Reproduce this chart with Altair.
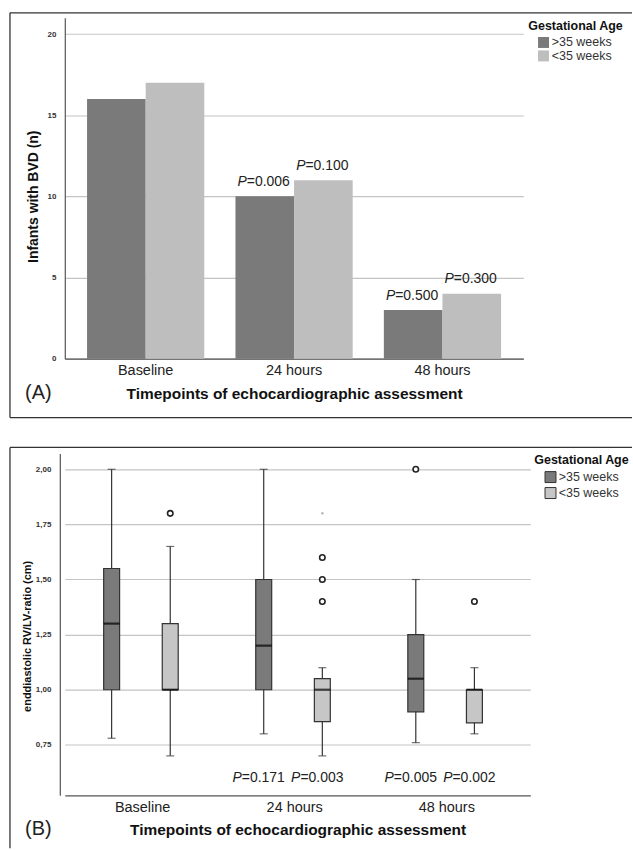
import altair as alt
import pandas as pd

FONT = "Liberation Sans"

timepoints = ["Baseline", "24 hours", "48 hours"]
groups = [">35 weeks", "<35 weeks"]
colors_a = ["#7a7a7a", "#bebebe"]
colors_b = ["#7a7a7a", "#c6c6c6"]

# ---------- Panel A: infants with BVD (n)
infants_gt35 = [16, 10, 3]
infants_lt35 = [17, 11, 4]
pval_a_gt35 = ["", "0.006", "0.500"]
pval_a_lt35 = ["", "0.100", "0.300"]

# ---------- Panel B: enddiastolic RV/LV ratio box plots
lower_gt35 = [0.78, 0.80, 0.76]
q1_gt35 = [1.00, 1.00, 0.90]
median_gt35 = [1.30, 1.20, 1.05]
q3_gt35 = [1.55, 1.50, 1.25]
upper_gt35 = [2.00, 2.00, 1.50]

lower_lt35 = [0.70, 0.70, 0.80]
q1_lt35 = [1.00, 0.855, 0.85]
median_lt35 = [1.00, 1.00, 1.00]
q3_lt35 = [1.30, 1.05, 1.00]
upper_lt35 = [1.65, 1.10, 1.10]

outlier_time = ["Baseline", "24 hours", "24 hours", "24 hours", "48 hours", "48 hours"]
outlier_group = ["<35 weeks", "<35 weeks", "<35 weeks", "<35 weeks", ">35 weeks", "<35 weeks"]
outlier_value = [1.80, 1.40, 1.50, 1.60, 2.00, 1.40]

extreme_time = ["24 hours"]
extreme_group = ["<35 weeks"]
extreme_value = [1.80]

pval_b_gt35 = ["", "0.171", "0.005"]
pval_b_lt35 = ["", "0.003", "0.002"]
pval_b_level = 0.60

# ---------- tables
rows_a = []
for i, t in enumerate(timepoints):
    rows_a.append({"time": t, "group": groups[0], "value": infants_gt35[i], "p": pval_a_gt35[i]})
    rows_a.append({"time": t, "group": groups[1], "value": infants_lt35[i], "p": pval_a_lt35[i]})
df_a = pd.DataFrame(rows_a)
df_a_p = df_a[df_a["p"] != ""].copy()
df_a_p["ptext"] = "=" + df_a_p["p"]
df_a_p["pp"] = "P"

rows_b = []
for i, t in enumerate(timepoints):
    rows_b.append({"time": t, "group": groups[0], "lower": lower_gt35[i], "q1": q1_gt35[i],
                   "median": median_gt35[i], "q3": q3_gt35[i], "upper": upper_gt35[i], "p": pval_b_gt35[i]})
    rows_b.append({"time": t, "group": groups[1], "lower": lower_lt35[i], "q1": q1_lt35[i],
                   "median": median_lt35[i], "q3": q3_lt35[i], "upper": upper_lt35[i], "p": pval_b_lt35[i]})
df_b = pd.DataFrame(rows_b)
df_b_p = df_b[df_b["p"] != ""].copy()
df_b_p["ptext"] = "=" + df_b_p["p"]
df_b_p["pp"] = "P"
df_b_p["plevel"] = pval_b_level

df_out = pd.DataFrame({"time": outlier_time, "group": outlier_group, "value": outlier_value})
df_ext = pd.DataFrame({"time": extreme_time, "group": extreme_group, "value": extreme_value})

one = pd.DataFrame({"k": [0]})

# ---------- shared pieces
xo_scale = alt.Scale(domain=groups, paddingInner=0, paddingOuter=0)


def x_axis():
    return alt.Axis(title="Timepoints of echocardiographic assessment", labelAngle=0,
                    ticks=False, grid=False, domainColor="#555", domainWidth=1.2,
                    labelFontSize=14.5, labelColor="#222", labelPadding=5,
                    titleFontSize=15.5, titleFontWeight="bold", titleColor="#111",
                    titlePadding=9)


def xo():
    return alt.XOffset("group:N", scale=xo_scale, sort=groups)


def legend(lx, ly, symoff, size, stroke, strokew, rowpad):
    return alt.Legend(title="Gestational Age", orient="none", legendX=lx, legendY=ly,
                      symbolType="square", symbolSize=size, symbolOffset=symoff,
                      symbolStrokeColor=stroke, symbolStrokeWidth=strokew,
                      labelFontSize=12.5, labelColor="#333", labelOffset=2,
                      titleFontSize=12.5, titleFontWeight="bold", titleColor="#111",
                      titlePadding=4, rowPadding=rowpad, padding=0)


# ---------- Panel A
xa_scale = alt.Scale(domain=timepoints, paddingInner=0.21, paddingOuter=0.15)


def xa():
    return alt.X("time:N", scale=xa_scale, sort=timepoints, axis=x_axis())


ya_scale = alt.Scale(domain=[0, 21], nice=False, zero=True)


def ya(field):
    return alt.Y(field, scale=ya_scale,
                 axis=alt.Axis(title="Infants with BVD (n)", values=[0, 5, 10, 15, 20], ticks=False,
                               labelFontSize=8, labelFontWeight="bold", labelColor="#333", labelPadding=9,
                               gridColor="#c4c4c4", gridWidth=1.2, domainColor="#555", domainWidth=1.2,
                               titleFontSize=14, titleFontWeight="bold", titleColor="#111",
                               titlePadding=6, titleY=179))


bars_a = alt.Chart(df_a).mark_bar().encode(
    x=xa(), xOffset=xo(), y=ya("value:Q"),
    color=alt.Color("group:N", scale=alt.Scale(domain=groups, range=colors_a), sort=groups,
                    legend=legend(465, 2, 9, 121, "transparent", 0, 0.5)),
)
pa_p = alt.Chart(df_a_p).mark_text(fontSize=14, fontStyle="italic", align="right", baseline="middle",
                                   dx=-18, dy=-14.5, color="#222").encode(
    x=xa(), xOffset=xo(), y=ya("value:Q"), text="pp:N")
pa_t = alt.Chart(df_a_p).mark_text(fontSize=14, align="left", baseline="middle",
                                   dx=-18, dy=-14.5, color="#222").encode(
    x=xa(), xOffset=xo(), y=ya("value:Q"), text="ptext:N")

frame_a_top = alt.Chart(one).mark_rule(color="#333", strokeWidth=1.3).encode(
    x=alt.value(-55), x2=alt.value(569), y=alt.value(-5))
frame_a_left = alt.Chart(one).mark_rule(color="#333", strokeWidth=1.3).encode(
    x=alt.value(-55), y=alt.value(-5), y2=alt.value(401))
frame_a_bot = alt.Chart(one).mark_rule(color="#333", strokeWidth=1.3).encode(
    x=alt.value(-55), x2=alt.value(569), y=alt.value(401))
tag_a = alt.Chart(pd.DataFrame({"t": ["(A)"]})).mark_text(fontSize=20, color="#222", baseline="middle").encode(
    x=alt.value(-26.5), y=alt.value(376), text="t:N")

chart_a = alt.layer(bars_a, pa_p, pa_t, frame_a_top, frame_a_left, frame_a_bot, tag_a).properties(
    width=460, height=342)

# ---------- Panel B
xb_scale = alt.Scale(domain=timepoints, paddingInner=0.207, paddingOuter=0.134, align=0.43)


def xb():
    return alt.X("time:N", scale=xb_scale, sort=timepoints, axis=x_axis())


yb_scale = alt.Scale(domain=[0.521, 2.072], nice=False, zero=False)


def yb(field):
    return alt.Y(field, scale=yb_scale,
                 axis=alt.Axis(title="enddiastolic RV/LV-ratio (cm)",
                               values=[0.75, 1.0, 1.25, 1.5, 1.75, 2.0], format=".2f",
                               labelExpr="replace(datum.label, '.', ',')", ticks=False,
                               labelFontSize=8, labelFontWeight="bold", labelColor="#333",
                               labelPadding=9, gridColor="#c4c4c4", gridWidth=1.2,
                               domainColor="#555", domainWidth=1.2, offset=5,
                               titleFontSize=11, titleFontWeight="bold", titleColor="#111",
                               titlePadding=3, titleY=183))


whisk = alt.Chart(df_b).mark_rule(color="#333", strokeWidth=1.2).encode(
    x=xb(), xOffset=xo(), y=yb("lower:Q"), y2="upper:Q")
cap_lo = alt.Chart(df_b).mark_tick(color="#333", size=8, thickness=1.2, orient="horizontal").encode(
    x=xb(), xOffset=xo(), y=yb("lower:Q"))
cap_hi = alt.Chart(df_b).mark_tick(color="#333", size=8, thickness=1.2, orient="horizontal").encode(
    x=xb(), xOffset=xo(), y=yb("upper:Q"))
box = alt.Chart(df_b).mark_bar(size=16, stroke="#333", strokeWidth=1.2).encode(
    x=xb(), xOffset=xo(), y=yb("q1:Q"), y2="q3:Q",
    color=alt.Color("group:N", scale=alt.Scale(domain=groups, range=colors_b), sort=groups,
                    legend=legend(471, 1, 10, 121, "#333", 1, 0)))
med = alt.Chart(df_b).mark_tick(color="#000", size=16, thickness=2.2, orient="horizontal").encode(
    x=xb(), xOffset=xo(), y=yb("median:Q"))
outl = alt.Chart(df_out).mark_point(shape="circle", filled=True, color="white", stroke="#222",
                                    strokeWidth=1.6, size=30, opacity=1).encode(
    x=xb(), xOffset=xo(), y=yb("value:Q"))
ext = alt.Chart(df_ext).mark_point(shape="circle", filled=True, color="#bbbbbb", size=7, opacity=1).encode(
    x=xb(), xOffset=xo(), y=yb("value:Q"))
pb_p = alt.Chart(df_b_p).mark_text(fontSize=14, fontStyle="italic", align="right", baseline="middle",
                                   dx=-22, color="#222").encode(
    x=xb(), xOffset=xo(), y=yb("plevel:Q"), text="pp:N")
pb_t = alt.Chart(df_b_p).mark_text(fontSize=14, align="left", baseline="middle",
                                   dx=-22, color="#222").encode(
    x=xb(), xOffset=xo(), y=yb("plevel:Q"), text="ptext:N")

frame_b_top = alt.Chart(one).mark_rule(color="#333", strokeWidth=1.3).encode(
    x=alt.value(-55), x2=alt.value(569), y=alt.value(-6))
frame_b_left = alt.Chart(one).mark_rule(color="#333", strokeWidth=1.3).encode(
    x=alt.value(-55), y=alt.value(-6), y2=alt.value(396))
tag_b = alt.Chart(pd.DataFrame({"t": ["(B)"]})).mark_text(fontSize=20, color="#222", baseline="middle").encode(
    x=alt.value(-26.5), y=alt.value(377), text="t:N")

chart_b = alt.layer(whisk, cap_lo, cap_hi, box, med, outl, ext, pb_p, pb_t,
                    frame_b_top, frame_b_left, tag_b).properties(width=467, height=343)

chart = alt.vconcat(chart_a, chart_b, spacing=28).resolve_scale(
    x="independent", y="independent", color="independent"
).resolve_legend(color="independent").properties(
    padding={"left": 9, "top": 10.5, "right": 0, "bottom": 0}
).configure(font=FONT).configure_view(stroke=None)

chart.save("out.html", embed_options={"renderer": "svg", "actions": False})
